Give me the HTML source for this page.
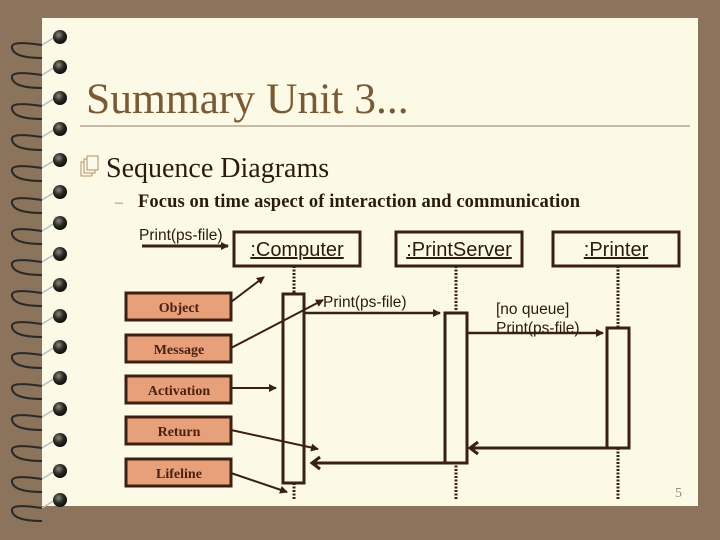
<!DOCTYPE html>
<html><head><meta charset="utf-8"><style>
body{margin:0;width:720px;height:540px;overflow:hidden;background:#8b735c;font-family:"Liberation Serif",serif}
</style></head><body>
<svg width="720" height="540" xmlns="http://www.w3.org/2000/svg" style="position:absolute;left:0;top:0">
<defs>
<marker id="a" markerWidth="8" markerHeight="8" refX="7" refY="4" orient="auto" markerUnits="userSpaceOnUse"><path d="M0,0 L8,4 L0,8 z" fill="#3a2010"/></marker>
<radialGradient id="b" cx="40%" cy="35%" r="60%"><stop offset="0" stop-color="#8a8a80"/><stop offset="0.6" stop-color="#2a2a24"/><stop offset="1" stop-color="#111"/></radialGradient>
</defs>
<rect x="42" y="18" width="656" height="488" fill="#fcfae6"/>
<g stroke="#2a2a28" stroke-width="2" fill="none">
<path d="M42,45 Q10,40 12,48 Q14,58 42,58"/><path d="M42,75 Q10,70 12,78 Q14,88 42,88"/><path d="M42,106 Q10,101 12,109 Q14,119 42,119"/><path d="M42,137 Q10,132 12,140 Q14,150 42,150"/><path d="M42,168 Q10,163 12,171 Q14,181 42,181"/><path d="M42,200 Q10,195 12,203 Q14,213 42,213"/><path d="M42,231 Q10,226 12,234 Q14,244 42,244"/><path d="M42,262 Q10,257 12,265 Q14,275 42,275"/><path d="M42,293 Q10,288 12,296 Q14,306 42,306"/><path d="M42,324 Q10,319 12,327 Q14,337 42,337"/><path d="M42,355 Q10,350 12,358 Q14,368 42,368"/><path d="M42,386 Q10,381 12,389 Q14,399 42,399"/><path d="M42,417 Q10,412 12,420 Q14,430 42,430"/><path d="M42,448 Q10,443 12,451 Q14,461 42,461"/><path d="M42,479 Q10,474 12,482 Q14,492 42,492"/><path d="M42,508 Q10,503 12,511 Q14,521 42,521"/>
</g>
<g stroke="#bbb" stroke-width="1.5"><path d="M42,45 L55,37"/><path d="M42,75 L55,67"/><path d="M42,106 L55,98"/><path d="M42,137 L55,129"/><path d="M42,168 L55,160"/><path d="M42,200 L55,192"/><path d="M42,231 L55,223"/><path d="M42,262 L55,254"/><path d="M42,293 L55,285"/><path d="M42,324 L55,316"/><path d="M42,355 L55,347"/><path d="M42,386 L55,378"/><path d="M42,417 L55,409"/><path d="M42,448 L55,440"/><path d="M42,479 L55,471"/><path d="M42,508 L55,500"/></g>
<g fill="url(#b)"><circle cx="60" cy="37" r="7"/><circle cx="60" cy="67" r="7"/><circle cx="60" cy="98" r="7"/><circle cx="60" cy="129" r="7"/><circle cx="60" cy="160" r="7"/><circle cx="60" cy="192" r="7"/><circle cx="60" cy="223" r="7"/><circle cx="60" cy="254" r="7"/><circle cx="60" cy="285" r="7"/><circle cx="60" cy="316" r="7"/><circle cx="60" cy="347" r="7"/><circle cx="60" cy="378" r="7"/><circle cx="60" cy="409" r="7"/><circle cx="60" cy="440" r="7"/><circle cx="60" cy="471" r="7"/><circle cx="60" cy="500" r="7"/></g>
<text x="86" y="113" font-size="43.5" fill="#7a5a34">Summary Unit 3...</text>
<line x1="80" y1="126" x2="690" y2="126" stroke="#8a7a6a" stroke-width="1"/>
<g fill="none" stroke="#b0906a" stroke-width="1"><rect x="81" y="162" width="11" height="14" fill="#fcfae6"/><rect x="84" y="159" width="11" height="14" fill="#fcfae6"/><rect x="87" y="156" width="11" height="14" fill="#fcfae6"/></g>
<text x="106" y="177" font-size="28" fill="#2a1a10">Sequence Diagrams</text>
<text x="115" y="207" font-size="16" fill="#8a7a6a">–</text>
<text x="138" y="207" font-size="18.5" font-weight="bold" fill="#2a1a10" textLength="442">Focus on time aspect of interaction and communication</text>
<g font-family="Liberation Sans,sans-serif" fill="#2a1a10">
<text x="139" y="240" font-size="15.5">Print(ps-file)</text>
<line x1="142" y1="246" x2="228" y2="246" stroke="#3a2010" stroke-width="3" marker-end="url(#a)"/>
</g>
<g stroke="#3a2010" stroke-width="3" fill="#fcfae6">
<rect x="234" y="232" width="126" height="34"/><rect x="396" y="232" width="126" height="34"/><rect x="553" y="232" width="126" height="34"/>
</g>
<g stroke="#3a2010" stroke-width="3" stroke-dasharray="2,1.5">
<line x1="294" y1="266" x2="294" y2="500"/><line x1="456" y1="266" x2="456" y2="500"/><line x1="618" y1="266" x2="618" y2="500"/>
</g>
<g stroke="#3a2010" stroke-width="3" fill="#fcfae6">
<rect x="283" y="294" width="21" height="189"/><rect x="445" y="313" width="22" height="150"/><rect x="607" y="328" width="22" height="120"/>
</g>
<g font-family="Liberation Sans,sans-serif" font-size="20" fill="#2a1a10" text-decoration="underline" text-anchor="middle">
<text x="297" y="256">:Computer</text><text x="459" y="256">:PrintServer</text><text x="616" y="256">:Printer</text>
</g>
<g font-family="Liberation Sans,sans-serif" font-size="15.5" fill="#2a1a10">
<text x="323" y="307">Print(ps-file)</text>
<text x="496" y="314">[no queue]</text><text x="496" y="333">Print(ps-file)</text>
</g>
<g stroke="#3a2010" stroke-width="2.5" fill="none">
<line x1="305" y1="313" x2="440" y2="313" marker-end="url(#a)"/>
<line x1="468" y1="333" x2="603" y2="333" marker-end="url(#a)"/>
<line x1="607" y1="448" x2="470" y2="448" stroke-width="3"/>
<path d="M478,442 L470,448 L478,454" stroke-width="3"/>
<line x1="445" y1="463" x2="312" y2="463" stroke-width="3"/>
<path d="M320,457 L312,463 L320,469" stroke-width="3"/>
<line x1="231" y1="302" x2="264" y2="277" stroke-width="2" marker-end="url(#a)"/>
<line x1="231" y1="348" x2="323" y2="300" stroke-width="2" marker-end="url(#a)"/>
<line x1="231" y1="388" x2="276" y2="388" stroke-width="2" marker-end="url(#a)"/>
<line x1="231" y1="430" x2="318" y2="449" stroke-width="2" marker-end="url(#a)"/>
<line x1="231" y1="473" x2="287" y2="492" stroke-width="2" marker-end="url(#a)"/>
</g>
<g stroke="#3a2010" stroke-width="3" fill="#e8a07a">
<rect x="126" y="293" width="105" height="27"/><rect x="126" y="335" width="105" height="27"/><rect x="126" y="376" width="105" height="27"/><rect x="126" y="417" width="105" height="27"/><rect x="126" y="459" width="105" height="27"/>
</g>
<g font-size="14" font-weight="bold" fill="#4a2010" text-anchor="middle">
<text x="179" y="312">Object</text><text x="179" y="354">Message</text><text x="179" y="395">Activation</text><text x="179" y="436">Return</text><text x="179" y="478">Lifeline</text>
</g>
<text x="675" y="497" font-size="14" fill="#9a8a7a">5</text>
</svg>
</body></html>
